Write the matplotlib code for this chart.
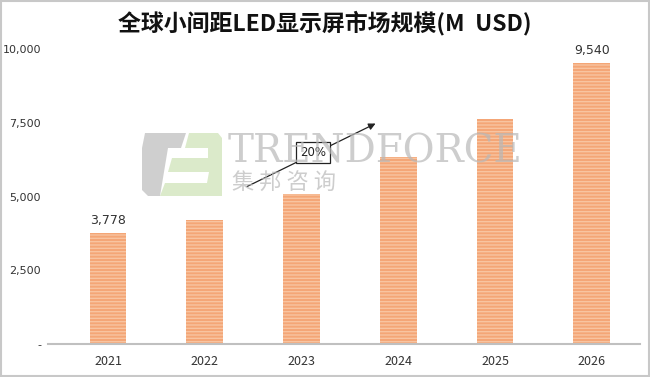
import numpy as np
import matplotlib.pyplot as plt
from matplotlib.patches import Rectangle, Polygon

plt.rcParams['font.family'] = ['Noto Sans CJK SC', 'DejaVu Sans']

years = ['2021', '2022', '2023', '2024', '2025', '2026']
values = [3778, 4200, 5090, 6330, 7630, 9540]
labeled = {0: '3,778', 5: '9,540'}
yticks = [0, 2500, 5000, 7500, 10000]
ytick_labels = ['-', '2,500', '5,000', '7,500', '10,000']
cagr = '20%'

W, H = 650, 377
fig = plt.figure(figsize=(6.5, 3.77), dpi=100)
fig.patches.append(Rectangle((0.002, 0.003), 0.996, 0.994, transform=fig.transFigure,
                             fill=False, edgecolor='#c8c8c8', linewidth=1.5))

# watermark logo (pixel outline -> figure fraction)
def px(pts):
    return [[a / W, 1 - b / H] for a, b in pts]

gray = px([(145, 133), (186, 133), (181, 148), (168, 148), (160, 196), (148, 196), (142, 190), (142, 148)])
green = px([(189, 133), (218, 133), (222, 138), (222, 196), (160, 196), (165, 183), (207, 183),
            (209, 172), (168, 172), (172, 158), (208, 158), (208, 148), (185, 148)])
fig.patches.append(Polygon(gray, closed=True, transform=fig.transFigure, facecolor='#b0b0b0', alpha=0.6, zorder=0))
fig.patches.append(Polygon(green, closed=True, transform=fig.transFigure, facecolor='#c3dca8', alpha=0.6, zorder=0))
fig.text(228 / W, 1 - 152 / H, 'TRENDFORCE', fontsize=28, color='#b8b8b8', alpha=0.7,
         family='DejaVu Serif', va='center', ha='left')
fig.text(232 / W, 1 - 183 / H, '集 邦 咨 询', fontsize=16, color='#b8b8b8', alpha=0.7, va='center', ha='left')

ax = fig.add_axes([0.074, 0.0875, 0.911, 0.782])
x = np.arange(len(years))
ax.bar(x, values, width=0.38, color='#F4A676', edgecolor='#F8C4A0', hatch='-----', linewidth=0, zorder=2)
for i, txt in labeled.items():
    ax.text(x[i], values[i] + 180, txt, ha='center', va='bottom', fontsize=9, color='#333333',
            family='DejaVu Sans')

ax.set_xlim(-0.62, 5.5)
ax.set_ylim(0, 10000)
ax.set_xticks(x)
ax.set_xticklabels(years, fontsize=9, color='#333333')
ax.set_yticks(yticks)
ax.set_yticklabels(ytick_labels, fontsize=8, color='#333333', family='DejaVu Sans')
ax.tick_params(axis='x', length=0, pad=8)
ax.tick_params(axis='y', length=0, pad=5)
for s in ['top', 'right', 'left']:
    ax.spines[s].set_visible(False)
ax.spines['bottom'].set_color('#c0c0c0')
ax.spines['bottom'].set_linewidth(1.5)

ax.annotate('', xy=(2.79, 7520), xytext=(1.41, 5300),
            arrowprops=dict(arrowstyle='-|>', color='#222222', lw=0.9, mutation_scale=10), zorder=3)
ax.text(2.12, 6500, cagr, ha='center', va='center', fontsize=8.5, color='#222222', zorder=4,
        family='DejaVu Sans',
        bbox=dict(boxstyle='square,pad=0.35', facecolor='white', edgecolor='#222222', linewidth=0.9))

fig.text(0.5, 0.94, '全球小间距LED显示屏市场规模(M  USD)', ha='center', va='center',
         fontsize=16.5, fontweight='bold', color='#111111')

fig.savefig('out.png', dpi=100)
